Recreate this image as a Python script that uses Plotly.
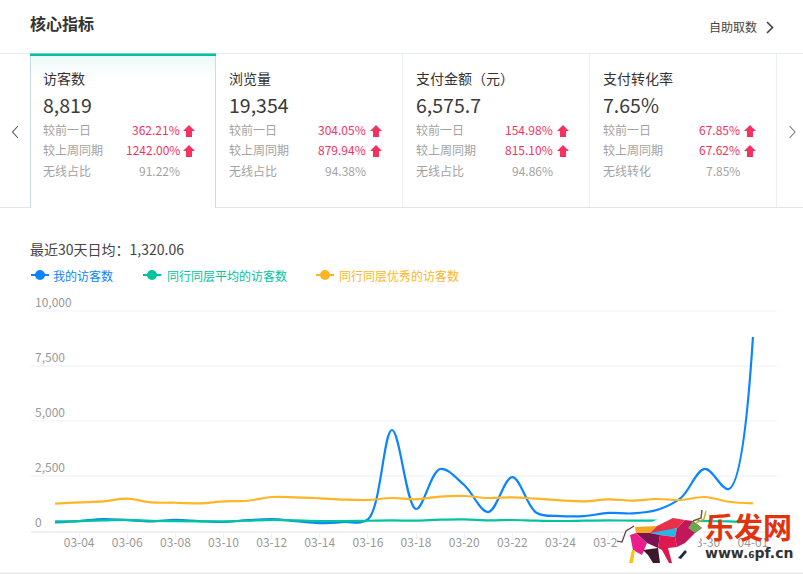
import plotly.graph_objects as go

dates = ["03-03","03-04","03-05","03-06","03-07","03-08","03-09","03-10","03-11","03-12",
         "03-13","03-14","03-15","03-16","03-17","03-18","03-19","03-20","03-21","03-22",
         "03-23","03-24","03-25","03-26","03-27","03-28","03-29","03-30","03-31","04-01"]
my_visitors = [395,450,540,495,440,510,450,410,490,540,450,360,410,525,4590,1000,2820,2090,860,2450,
               830,680,680,820,800,955,1500,2820,1910,8819]
peer_avg = [440,450,480,510,465,450,440,440,465,510,480,450,450,465,480,470,515,530,485,500,
            470,455,470,485,470,470,455,455,440,400]
peer_top = [1240,1300,1345,1470,1300,1285,1255,1345,1375,1545,1530,1485,1425,1410,1500,1440,1560,1590,1500,1530,
            1470,1395,1350,1440,1380,1455,1410,1545,1330,1260]

series_names = ["我的访客数", "同行同层平均的访客数", "同行同层优秀的访客数"]
tick_labels = dates[1::2]
y_ticks = [0, 2500, 5000, 7500, 10000]

card_titles = ["访客数", "浏览量", "支付金额（元）", "支付转化率"]
card_values = ["8,819", "19,354", "6,575.7", "7.65%"]
day_change = ["362.21%", "304.05%", "154.98%", "67.85%"]
week_change = ["1242.00%", "879.94%", "815.10%", "67.62%"]
third_labels = ["无线占比", "无线占比", "无线占比", "无线转化"]
third_values = ["91.22%", "94.38%", "94.86%", "7.85%"]

BLUE = "#0a85ff"
GREEN = "#00c4a0"
YELLOW = "#ffb524"
PINK = "#f5315f"
FONT = "Noto Sans CJK SC"

# plot area in page pixels, everything else is placed relative to it
L, R, T, B = 31, 777, 311, 531


def X(px):
    return (px - L) / (R - L)


def Y(py):
    return 1 - (py - T) / (B - T)


def poly(points):
    return "M " + " L ".join(f"{X(p[0])} {Y(p[1])}" for p in points) + " Z"


def open_path(points):
    return "M " + " L ".join(f"{X(p[0])} {Y(p[1])}" for p in points)


shapes = []
annotations = []


def add_text(px, py, text, size=12, color="#333", anchor="left", **kw):
    annotations.append(dict(xref="paper", yref="paper", x=X(px), y=Y(py), text=text, showarrow=False,
                            xanchor=anchor, yanchor="middle", font=dict(size=size, color=color, family=FONT),
                            borderpad=0, **kw))


def add_line(points, color, width=1):
    shapes.append(dict(type="path", xref="paper", yref="paper", path=open_path(points),
                       line=dict(color=color, width=width), layer="above"))


def add_poly(points, color):
    shapes.append(dict(type="path", xref="paper", yref="paper", path=poly(points),
                       fillcolor=color, line=dict(width=0), layer="above"))


# active card gradient
for i in range(20):
    g = i / 20
    col = "rgb(%d,%d,%d)" % (236 + 19 * g, 250 + 5 * g, 248 + 7 * g)
    add_poly([(31, 56 + i), (215, 56 + i), (215, 57 + i), (31, 57 + i)], col)

# header and card frame lines
add_line([(0, 53.5), (803, 53.5)], "#e9edf2")
add_line([(0, 207.5), (30.5, 207.5)], "#dde5ee")
add_line([(215.5, 207.5), (803, 207.5)], "#dde5ee")
add_line([(30.5, 54), (30.5, 208)], "#c9dbe6")
add_line([(215.5, 54), (215.5, 208)], "#c9dbe6")
for sep in [402.5, 589.5, 776.5]:
    add_line([(sep, 54), (sep, 207)], "#eceff4")
add_poly([(30, 53.5), (216, 53.5), (216, 56), (30, 56)], "#00c2a0")
add_line([(0, 573.5), (803, 573.5)], "#e4e4e4", 1.5)
# plotly leaves out the gridline on the very top of the range
add_line([(L, T), (R, T)], "#f6f7fc", 1.5)

add_text(29, 23, "<b>核心指标</b>", 16, "#333")
add_text(708, 26.5, "自助取数", 12, "#444")
add_line([(767, 22), (772.5, 27.5), (767, 33)], "#444", 1.6)
add_line([(18, 126), (12.5, 132), (18, 138)], "#555", 1.1)
add_line([(789.5, 126), (795, 132), (789.5, 138)], "#777", 1.1)

# the four metric cards
card_left = [42, 228, 415, 602]
value_right = [181, 367, 554, 741]
arrow_left = [183, 370, 557, 744]
for i in range(4):
    x0 = card_left[i]
    add_text(x0, 78, card_titles[i], 14, "#333")
    add_text(x0, 104, card_values[i], 19.5, "#3a3a3a")
    add_text(x0, 129.5, "较前一日", 12, "#a3a3a3")
    add_text(x0, 149.5, "较上周同期", 12, "#a3a3a3")
    add_text(x0, 170, third_labels[i], 12, "#a3a3a3")
    add_text(value_right[i], 129.5, day_change[i], 12, PINK, "right")
    add_text(value_right[i], 149.5, week_change[i], 12, PINK, "right")
    add_text(value_right[i], 170, third_values[i], 12, "#a3a3a3", "right")
    for ay in [131, 151]:
        a = arrow_left[i] + 6
        add_poly([(a, ay - 6), (a + 6, ay), (a + 3, ay), (a + 3, ay + 6),
                  (a - 3, ay + 6), (a - 3, ay), (a - 6, ay)], PINK)

add_text(29, 249, "最近30天日均：1,320.06", 14, "#444")

# legend drawn by hand: plotly's legend line has a 30px minimum and the reference uses 18px
legend_dot = [40, 152, 325]
legend_text = [52, 166, 338]
for name, col, dx, tx in zip(series_names, [BLUE, GREEN, YELLOW], legend_dot, legend_text):
    add_line([(dx - 9, 275), (dx + 9, 275)], col, 2)
    shapes.append(dict(type="circle", xref="paper", yref="paper", x0=X(dx - 5), x1=X(dx + 5), y0=Y(280), y1=Y(270),
                       fillcolor=col, line=dict(width=0), layer="above"))
    add_text(tx, 275, name, 12, col)

# watermark, a rough low-poly bull
add_poly([(618, 535), (640, 528), (660, 518), (690, 516), (705, 525), (697, 548), (680, 565), (632, 565), (632, 548), (618, 548)], "white")
add_poly([(739, 515), (757, 515), (757, 527), (739, 527)], "white")
add_poly([(635, 527), (657, 526), (650, 533), (636, 533)], "#f5a623")
add_poly([(657, 526), (673, 518), (685, 520), (677, 528), (662, 533), (650, 533)], "#e8304a")
add_poly([(650, 533), (677, 528), (675, 537), (660, 535)], "#29b6e6")
add_poly([(636, 533), (650, 533), (660, 535), (658, 548), (647, 543)], "#7a1450")
add_poly([(630, 535), (636, 533), (647, 543), (642, 555), (633, 550)], "#e91e8c")
add_poly([(632, 550), (635, 550), (633, 563), (629, 563)], "#f5c518")
add_poly([(643, 550), (658, 548), (660, 563), (653, 563), (648, 555)], "#3a1a2a")
add_poly([(660, 535), (675, 537), (677, 547), (668, 548), (672, 563), (669, 563), (662, 550), (658, 548)], "#e0174f")
add_poly([(685, 520), (693, 521), (702, 528), (695, 533), (685, 543), (677, 547), (675, 537), (677, 528)], "#c2185b")
add_poly([(693, 521), (702, 528), (695, 533), (688, 528)], "#6aa84f")
add_poly([(678, 558), (685, 550), (687, 552), (681, 559)], "#1d2b44")
add_line([(617, 541), (622, 542), (626, 531), (634, 526)], "#5d3a4a", 1.2)
add_line([(693, 521), (701, 518), (702, 510)], "#6b5b3a", 1.5)
add_line([(696, 523), (704, 519), (706, 511)], "#c9b030", 1.5)

add_text(704, 526, "<b>乐发网</b>", 29, "#e2330f")
annotations.append(dict(xref="paper", yref="paper", x=X(703), y=Y(553),
                        text="<b>www.<span style=\"font-size:9px\">6</span>pf.cn</b>", showarrow=False,
                        xanchor="left", yanchor="middle", font=dict(size=14, color="#333", family="DejaVu Sans")))

fig = go.Figure()
for name, col, vals in zip(series_names, [BLUE, GREEN, YELLOW], [my_visitors, peer_avg, peer_top]):
    fig.add_trace(go.Scatter(x=dates, y=vals, mode="lines", showlegend=False, name=name,
                             line=dict(color=col, width=2.2, shape="spline", smoothing=1.0)))

fig.update_layout(
    width=803, height=574, autosize=False,
    margin=dict(l=L, r=803 - R, t=T, b=574 - B),
    paper_bgcolor="white", plot_bgcolor="white",
    font=dict(family=FONT, size=12, color="#999"),
    shapes=shapes, annotations=annotations, showlegend=False,
    xaxis=dict(type="category", categoryorder="array", categoryarray=dates, range=[-1, 30],
               tickmode="array", tickvals=tick_labels, ticktext=tick_labels,
               showgrid=False, showline=True, linecolor="#eef0f5", linewidth=1.5, zeroline=False,
               ticks="outside", ticklen=6, tickcolor="#eef0f5", ticklabelstandoff=-6,
               tickfont=dict(size=12, color="#999")),
    yaxis=dict(range=[0, 10000], tickmode="array", tickvals=y_ticks, ticktext=["0", "2,500", "5,000", "7,500", "10,000"],
               showgrid=True, gridcolor="#f6f7fc", gridwidth=1.5, zeroline=False, showline=False,
               ticklabelposition="inside", ticklabeloverflow="allow", ticklabelstandoff=1, ticklabelshift=-8,
               tickfont=dict(size=12, color="#999")),
)

# the page body has a default margin that would push the figure off its 803x574 frame
fig.write_html("out.html", config={"displayModeBar": False}, post_script="document.body.style.margin='0';")
